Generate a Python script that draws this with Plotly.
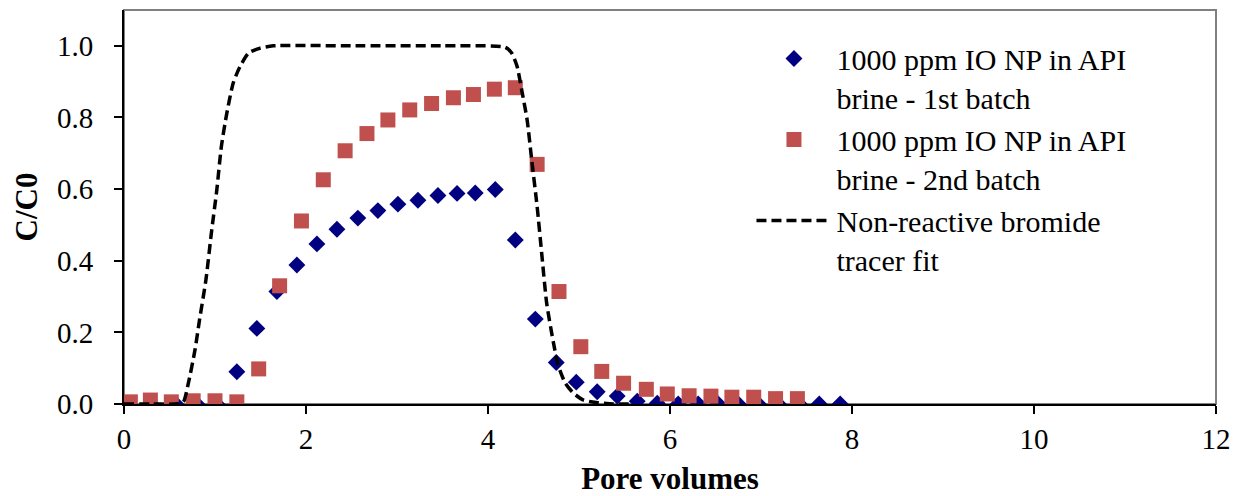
import plotly.graph_objects as go

# ---- data ----
batch1_x = [0.06, 0.30, 0.57, 0.80, 1.02, 1.24, 1.46, 1.68, 1.90, 2.12, 2.34, 2.57, 2.79,
            3.01, 3.23, 3.45, 3.66, 3.86, 4.08, 4.30, 4.52, 4.75, 4.97, 5.20, 5.42, 5.64,
            5.86, 6.09, 6.31, 6.53, 6.75, 6.97, 7.19, 7.42, 7.64, 7.87]
batch1_y = [0.0, 0.0, 0.0, 0.0, 0.0, 0.090, 0.211, 0.314, 0.388, 0.447, 0.488, 0.519, 0.540,
            0.558, 0.569, 0.582, 0.588, 0.589, 0.599, 0.458, 0.237, 0.116, 0.061, 0.034,
            0.022, 0.008, 0.002, 0.0, 0.0, 0.0, 0.0, 0.0, 0.0, 0.0, 0.0, 0.0]

batch2_x = [0.07, 0.29, 0.52, 0.76, 1.00, 1.24, 1.48, 1.71, 1.95, 2.19, 2.43, 2.67, 2.90,
            3.14, 3.38, 3.62, 3.84, 4.07, 4.30, 4.54, 4.78, 5.02, 5.25, 5.49, 5.74, 5.97,
            6.21, 6.45, 6.68, 6.92, 7.16, 7.40]
batch2_y = [0.006, 0.011, 0.006, 0.009, 0.009, 0.006, 0.098, 0.330, 0.511, 0.626, 0.707,
            0.755, 0.793, 0.821, 0.839, 0.855, 0.864, 0.879, 0.883, 0.669, 0.314, 0.160,
            0.091, 0.058, 0.041, 0.028, 0.023, 0.022, 0.019, 0.019, 0.015, 0.015]

tracer_x = [0.0, 0.30, 0.55, 0.65, 0.707, 0.78, 0.83, 0.90, 0.96, 1.02, 1.07, 1.13, 1.20,
            1.275, 1.37, 1.49, 1.64, 2.50, 3.50, 4.19, 4.26, 4.32, 4.37, 4.43, 4.48, 4.54,
            4.59, 4.645, 4.72, 4.77, 4.85, 4.94, 5.05, 5.19, 5.38, 5.60]
tracer_y = [0.0, 0.0, 0.0, 0.005, 0.058, 0.151, 0.235, 0.346, 0.477, 0.598, 0.719, 0.812,
            0.896, 0.942, 0.980, 0.993, 1.0, 1.0, 1.0, 0.996, 0.980, 0.942, 0.877, 0.793,
            0.682, 0.551, 0.421, 0.281, 0.170, 0.109, 0.058, 0.030, 0.011, 0.004, 0.0, 0.0]

name1 = "1000 ppm IO NP in API<br>brine - 1st batch"
name2 = "1000 ppm IO NP in API<br>brine - 2nd batch"
name3 = "Non-reactive bromide<br>tracer fit"

x_ticks = [0, 2, 4, 6, 8, 10, 12]
y_ticks = [0.0, 0.2, 0.4, 0.6, 0.8, 1.0]

FONT = "Liberation Serif, Times New Roman, serif"

fig = go.Figure()
fig.add_trace(go.Scatter(
    x=batch1_x, y=batch1_y, mode="markers", name=name1,
    marker=dict(symbol="diamond", size=13, color="#000080", line=dict(width=0)),
))
fig.add_trace(go.Scatter(
    x=batch2_x, y=batch2_y, mode="markers", name=name2,
    marker=dict(symbol="square", size=15, color="#C0504D", line=dict(width=0)),
))
fig.add_trace(go.Scatter(
    x=tracer_x, y=tracer_y, mode="lines", name=name3,
    line=dict(color="black", width=3.5, dash="10px,5px", shape="spline", smoothing=0.6),
))

fig.add_shape(type="rect", xref="paper", yref="paper", x0=0, x1=1, y0=0, y1=1,
              line=dict(color="#808080", width=2), layer="below")

fig.update_layout(
    width=1241, height=496,
    margin=dict(l=124, r=25, t=10, b=92, autoexpand=False),
    paper_bgcolor="white", plot_bgcolor="white",
    font=dict(family=FONT, color="black", size=29),
    showlegend=True,
    legend=dict(
        x=0.5746, y=0.943, xanchor="left", yanchor="top",
        bgcolor="rgba(0,0,0,0)", borderwidth=0,
        font=dict(family=FONT, size=30, color="black"),
        itemwidth=75, valign="top", tracegroupgap=0,
    ),
    xaxis=dict(
        range=[0, 12], tickvals=x_ticks, ticktext=[str(v) for v in x_ticks],
        showgrid=False, zeroline=False, automargin=False,
        showline=True, linecolor="black", linewidth=2,
        ticks="outside", ticklen=8, tickwidth=1.5, tickcolor="black",
        tickfont=dict(family=FONT, size=29), ticklabelstandoff=0,
        title=dict(text="<b>Pore volumes</b>", font=dict(family=FONT, size=31), standoff=21),
    ),
    yaxis=dict(
        range=[0, 1.1], tickvals=y_ticks, ticktext=[f"{v:.1f}" for v in y_ticks],
        showgrid=False, zeroline=False, automargin=False,
        showline=True, linecolor="black", linewidth=2,
        ticks="outside", ticklen=8, tickwidth=1.5, tickcolor="black",
        tickfont=dict(family=FONT, size=29), ticklabelstandoff=15,
        title=dict(text="<b>C/C0</b>", font=dict(family=FONT, size=31), standoff=10),
    ),
)

fig.write_html("out.html", config={"displayModeBar": False},
               post_script="document.body.style.margin='0px';")
